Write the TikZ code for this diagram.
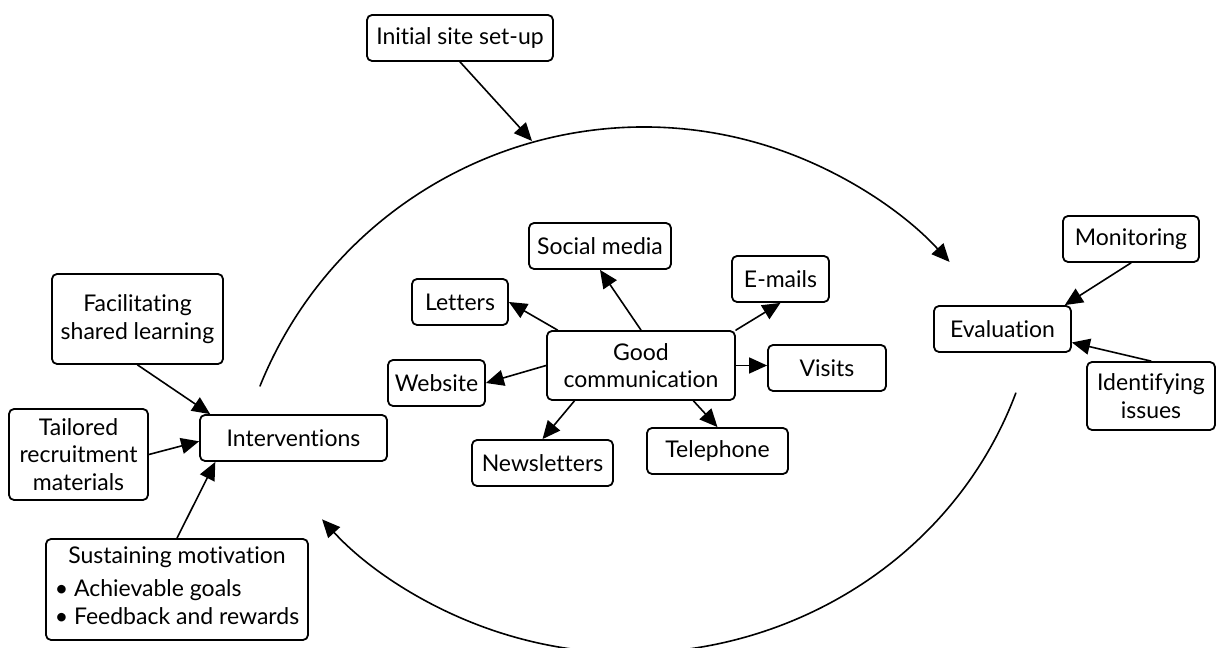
\documentclass[tikz,border=0pt]{standalone}
\usepackage{fontspec}
\setmainfont{Lato}[Ligatures=NoCommon]
\usetikzlibrary{arrows.meta}
\tikzset{box/.style={draw,line width=0.9pt,rounded corners=2.5pt,align=center,inner sep=2pt,font=\fontsize{11.5}{13.7}\selectfont},
link/.style={->,line width=0.8pt}}
\begin{document}
\begin{tikzpicture}[line cap=round,line join=round,>={Triangle[length=9pt,width=8pt]},x=0.5pt,y=0.5pt]
\useasboundingbox (0,0) rectangle (1217,648);
\node[box,minimum width=93pt,minimum height=23pt] (setup) at (460,610) {Initial site set-up};
\node[box,minimum width=85.5pt,minimum height=45pt] (shared) at (137.5,329) {Facilitating\\shared learning};
\node[box,minimum width=69.5pt,minimum height=45.5pt] (tailored) at (78.5,193.5) {Tailored\\recruitment\\materials};
\node[box,minimum width=93.5pt,minimum height=23pt] (interv) at (293.5,210) {Interventions};
\node[box,minimum width=131pt,minimum height=50.5pt] (motiv) at (177,58.5)
  {Sustaining motivation\\[4pt]\begin{tabular}{@{}l@{}}\textbullet\ Achievable goals\\\textbullet\ Feedback and rewards\end{tabular}};
\node[box,minimum width=94pt,minimum height=34.5pt] (goodcomm) at (641,282.5) {Good\\communication};
\node[box,minimum width=71pt,minimum height=23pt] (social) at (600,402) {Social media};
\node[box,minimum width=48pt,minimum height=23pt] (letters) at (460,346) {Letters};
\node[box,minimum width=48.5pt,minimum height=23pt] (emails) at (780.5,369) {E-mails};
\node[box,minimum width=48.5pt,minimum height=23pt] (website) at (436.5,265) {Website};
\node[box,minimum width=59pt,minimum height=23pt] (visits) at (827,280) {Visits};
\node[box,minimum width=70.5pt,minimum height=23pt] (newsl) at (542.5,185) {Newsletters};
\node[box,minimum width=70.5pt,minimum height=23pt] (phone) at (717.5,197) {Telephone};
\node[box,minimum width=68pt,minimum height=23pt] (monit) at (1131,409) {Monitoring};
\node[box,minimum width=68.5pt,minimum height=23pt] (eval) at (1002.5,319) {Evaluation};
\node[box,minimum width=64pt,minimum height=34pt] (issues) at (1151,252) {Identifying\\issues};
\coordinate (topstart) at (260,262);
\coordinate (botstart) at (1015.8,254.9);
\coordinate (hit) at (532,507);
\draw[link] (topstart) arc[start angle=158,end angle=42.4,radius=414];
\draw[link] (botstart) arc[start angle=-19.8,end angle=-138.7,x radius=410,y radius=393];
\draw[link] (setup.south) -- (hit);
\draw[link] (shared.south) -- (interv.164);
\draw[link] (tailored.east) -- (interv.182);
\draw[link] (motiv.north) -- (interv.197);
\draw[link] (goodcomm.north) -- (social.south);
\draw[link] (goodcomm.157) -- (letters.east);
\draw[link] (goodcomm.north east) -- (emails.south);
\draw[link] (goodcomm.west) -- (website.east);
\draw[link] (goodcomm.east) -- (goodcomm.east -| visits.west);
\draw[link] (goodcomm.208) -- (newsl.north);
\draw[link] (goodcomm.326) -- (phone.north);
\draw[link] (monit.south) -- (eval.21);
\draw[link] (issues.north) -- (eval.-11);
\end{tikzpicture}
\end{document}
